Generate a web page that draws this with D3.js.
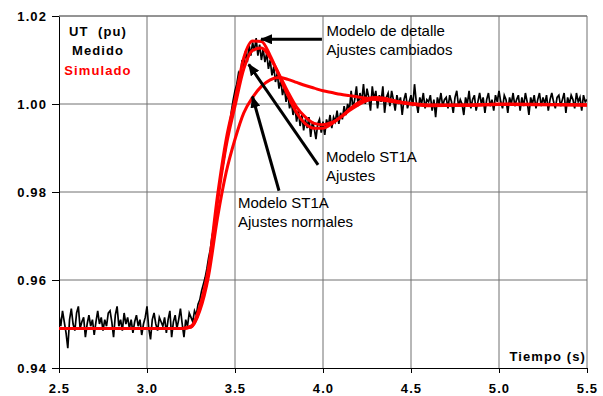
<!DOCTYPE html>
<html>
<head>
  <meta charset="UTF-8">
  <title></title>
  <style>
    body{ margin:0; background:#fff; }
    svg text{ font-family: Arial, 'Liberation Sans', sans-serif; }
    .tick text, .boldlbl{ font-size:13px; font-weight:bold; letter-spacing:1.1px; fill:#000; }
    .note{ font-size:15px; fill:#000; }
    .grid line{ stroke:#707070; stroke-width:1; }
  </style>
</head>
<body>
<script src="https://cdnjs.cloudflare.com/ajax/libs/d3/7.8.5/d3.min.js"></script>
<script>
/// data

var xTicks = [2.5, 3.0, 3.5, 4.0, 4.5, 5.0, 5.5];
var yTicks = [0.94, 0.96, 0.98, 1.00, 1.02];

// measured signal, one sample every 0.01 s from 2.50 s (one row = 0.1 s)
var measStart = 2.5, measStep = 0.01;
var measured = [
  0.9520, 0.9495, 0.9530, 0.9505, 0.9480, 0.9445, 0.9510, 0.9535, 0.9500, 0.9485,
  0.9525, 0.9540, 0.9490, 0.9505, 0.9515, 0.9470, 0.9500, 0.9520, 0.9495, 0.9510,
  0.9475, 0.9505, 0.9530, 0.9500, 0.9515, 0.9485, 0.9510, 0.9495, 0.9525, 0.9530,
  0.9505, 0.9470, 0.9520, 0.9540, 0.9495, 0.9510, 0.9485, 0.9525, 0.9500, 0.9515,
  0.9490, 0.9510, 0.9480, 0.9505, 0.9520, 0.9495, 0.9510, 0.9475, 0.9500, 0.9515,
  0.9540, 0.9490, 0.9465, 0.9510, 0.9525, 0.9500, 0.9485, 0.9515, 0.9505, 0.9495,
  0.9515, 0.9480, 0.9510, 0.9530, 0.9470, 0.9505, 0.9520, 0.9490, 0.9510, 0.9535,
  0.9500, 0.9470, 0.9510, 0.9495, 0.9525, 0.9515, 0.9505, 0.9530, 0.9520, 0.9545,
  0.9555, 0.9575, 0.9590, 0.9605, 0.9625, 0.9650, 0.9670, 0.9700, 0.9720, 0.9755,
  0.9780, 0.9810, 0.9835, 0.9855, 0.9880, 0.9905, 0.9935, 0.9955, 0.9985, 1.0010,
  1.0030, 1.0045, 1.0070, 1.0060, 1.0100, 1.0085, 1.0120, 1.0095, 1.0135, 1.0110,
  1.0140, 1.0120, 1.0150, 1.0110, 1.0135, 1.0100, 1.0125, 1.0095, 1.0115, 1.0080,
  1.0100, 1.0065, 1.0085, 1.0050, 1.0070, 1.0035, 1.0055, 1.0020, 1.0040, 1.0005,
  1.0025, 0.9990, 1.0005, 0.9975, 0.9995, 0.9960, 0.9985, 0.9950, 0.9975, 0.9940,
  0.9965, 0.9945, 0.9970, 0.9925, 0.9960, 0.9945, 0.9920, 0.9955, 0.9965, 0.9935,
  0.9960, 0.9930, 0.9965, 0.9950, 0.9975, 0.9945, 0.9970, 0.9960, 0.9985, 0.9955,
  0.9980, 0.9965, 0.9995, 0.9975, 1.0000, 0.9985, 1.0030, 0.9990, 1.0010, 1.0040,
  0.9995, 1.0025, 1.0005, 1.0045, 1.0000, 1.0035, 1.0015, 0.9985, 1.0040, 1.0010,
  1.0030, 0.9990, 1.0020, 1.0005, 1.0040, 0.9980, 1.0015, 1.0025, 0.9995, 1.0030,
  1.0010, 0.9985, 1.0020, 1.0000, 1.0015, 0.9975, 1.0010, 1.0025, 0.9990, 1.0005,
  1.0020, 0.9995, 1.0045, 1.0005, 0.9980, 1.0015, 1.0000, 1.0025, 0.9990, 1.0010,
  1.0005, 1.0020, 0.9985, 1.0010, 0.9970, 1.0015, 1.0000, 1.0025, 0.9995, 1.0010,
  1.0015, 0.9990, 1.0020, 1.0005, 0.9980, 1.0015, 1.0030, 0.9995, 1.0010, 1.0000,
  0.9975, 1.0015, 1.0000, 1.0030, 0.9990, 1.0010, 1.0020, 0.9985, 1.0005, 1.0025,
  1.0000, 1.0015, 0.9980, 1.0010, 1.0025, 0.9995, 1.0010, 0.9985, 1.0020, 1.0005,
  1.0030, 1.0005, 0.9990, 1.0020, 1.0010, 0.9980, 1.0015, 1.0000, 1.0025, 0.9995,
  1.0010, 1.0020, 0.9985, 1.0015, 0.9995, 1.0025, 1.0005, 0.9975, 1.0015, 1.0000,
  1.0020, 0.9990, 1.0010, 1.0025, 0.9995, 1.0015, 1.0000, 1.0020, 0.9985, 1.0010,
  1.0025, 1.0005, 0.9990, 1.0015, 1.0020, 0.9995, 1.0010, 1.0025, 0.9980, 1.0015,
  1.0000, 1.0020, 1.0010, 0.9990, 1.0025, 1.0005, 1.0015, 0.9985, 1.0020, 1.0005,
  1.0010
];

// simulated curves
var simTime = [2.5, 3.2, 3.25, 3.3, 3.35, 3.4, 3.45, 3.5, 3.55, 3.6, 3.65, 3.7, 3.75, 3.8,
  3.85, 3.9, 3.95, 4.0, 4.05, 4.1, 4.15, 4.2, 4.25, 4.3, 4.35, 4.4, 4.5, 4.6, 4.8, 5.0, 5.5];
var simDetalle = [0.949, 0.949, 0.9495, 0.954, 0.963, 0.979, 0.992, 1.001, 1.0105, 1.0143,
  1.0142, 1.011, 1.0065, 1.002, 0.998, 0.9955, 0.9945, 0.9945, 0.9955, 0.997, 0.9988,
  1.0003, 1.0012, 1.0015, 1.0013, 1.0008, 1.0, 0.9996, 0.9997, 1.0, 0.9998];
var simST1A = [0.949, 0.949, 0.9493, 0.9535, 0.962, 0.9775, 0.9905, 0.9995, 1.008, 1.0122,
  1.0127, 1.0105, 1.0068, 1.0028, 0.9993, 0.997, 0.9956, 0.9953, 0.9958, 0.997, 0.9985,
  0.9998, 1.0008, 1.0012, 1.0011, 1.0007, 1.0001, 0.9998, 0.9998, 0.9999, 0.9998];
var simNormal = [0.949, 0.949, 0.9493, 0.953, 0.961, 0.974, 0.9845, 0.992, 0.998, 1.0015,
  1.004, 1.0055, 1.006, 1.0056, 1.0049, 1.0042, 1.0036, 1.003, 1.0026, 1.0022, 1.0019,
  1.0016, 1.0013, 1.001, 1.0008, 1.0005, 1.0, 0.9997, 0.9997, 0.9999, 0.9998];

// annotations: text lines, text anchor (t, v), arrow from (t, v) to tip (t, v)
var notes = [
  { lines: ["Modelo de detalle", "Ajustes cambiados"], at: [4.02, 1.0154], from: [3.994, 1.0147], to: [3.648, 1.0147] },
  { lines: ["Modelo ST1A", "Ajustes"], at: [4.017, 0.98686], from: [3.972, 0.98618], to: [3.578, 1.0090] },
  { lines: ["Modelo ST1A", "Ajustes normales"], at: [3.517, 0.97644], from: [3.75, 0.98029], to: [3.599, 1.0017] }
];

/// chart

var W = 603, H = 396;
var margin = {top: 16, right: 16, bottom: 28, left: 59};
var w = W - margin.left - margin.right,
    h = H - margin.top - margin.bottom;

var svg = d3.select("body").append("svg")
    .attr("width", W).attr("height", H);
var g = svg.append("g")
    .attr("transform", "translate(" + margin.left + "," + margin.top + ")");

var x = d3.scaleLinear().domain([2.5, 5.5]).range([0, w]);
var y = d3.scaleLinear().domain([0.94, 1.02]).range([h, 0]);

g.append("clipPath").attr("id", "clip")
  .append("rect").attr("width", w).attr("height", h);

// grid
var grid = g.append("g").attr("class", "grid");
grid.selectAll(".vg").data(xTicks.slice(1)).enter().append("line")
    .attr("x1", d => x(d)).attr("x2", d => x(d))
    .attr("y1", 0).attr("y2", h);
grid.selectAll(".hg").data(yTicks.slice(1)).enter().append("line")
    .attr("x1", 0).attr("x2", w)
    .attr("y1", d => y(d)).attr("y2", d => y(d));

// axes
g.append("g")
    .attr("transform", "translate(0," + h + ")")
    .call(d3.axisBottom(x).tickValues(xTicks).tickFormat(d3.format(".1f")).tickSize(5).tickSizeOuter(0))
    .call(a => a.select(".domain").attr("stroke", "#000"))
    .call(a => a.selectAll(".tick text").attr("dy", "0.71em").attr("y", 16));
g.append("g")
    .call(d3.axisLeft(y).tickValues(yTicks).tickFormat(d3.format(".2f")).tickSize(7).tickPadding(5).tickSizeOuter(0))
    .call(a => a.select(".domain").attr("stroke", "#000"));
g.selectAll(".tick text").attr("font-family", null).attr("font-size", null);

var plot = g.append("g").attr("clip-path", "url(#clip)");

// measured
var measLine = d3.line()
    .x((d, i) => x(measStart + i * measStep))
    .y(d => y(d));
plot.append("path").datum(measured)
    .attr("d", measLine)
    .attr("fill", "none").attr("stroke", "#000").attr("stroke-width", 1.7);

// simulated
var simLine = d3.line()
    .x((d, i) => x(simTime[i]))
    .y(d => y(d))
    .curve(d3.curveMonotoneX);
[simNormal, simST1A, simDetalle].forEach(function(s) {
  plot.append("path").datum(s)
      .attr("d", simLine)
      .attr("fill", "none").attr("stroke", "#ff0000").attr("stroke-width", 3);
});

// arrows
svg.append("defs").append("marker")
    .attr("id", "head")
    .attr("markerUnits", "userSpaceOnUse")
    .attr("viewBox", "0 0 12 10")
    .attr("refX", 11).attr("refY", 5)
    .attr("markerWidth", 12).attr("markerHeight", 10)
    .attr("orient", "auto")
  .append("path").attr("d", "M0,0 L12,5 L0,10 Z").attr("fill", "#000");

notes.forEach(function(n) {
  g.append("line")
      .attr("x1", x(n.from[0])).attr("y1", y(n.from[1]))
      .attr("x2", x(n.to[0])).attr("y2", y(n.to[1]))
      .attr("stroke", "#000").attr("stroke-width", 3)
      .attr("marker-end", "url(#head)");
  var t = g.append("text").attr("class", "note")
      .attr("x", x(n.at[0])).attr("y", y(n.at[1]));
  n.lines.forEach(function(l, i) {
    t.append("tspan").attr("x", x(n.at[0])).attr("dy", i ? 19 : 0).text(l);
  });
});

// legend / titles
var leg = g.append("text").attr("class", "boldlbl").attr("text-anchor", "middle")
    .attr("x", 39).attr("y", 20).style("white-space", "pre");
leg.append("tspan").attr("x", 39).text("UT  (pu)");
leg.append("tspan").attr("x", 39).attr("dy", 19).text("Medido");
leg.append("tspan").attr("x", 39).attr("dy", 20).attr("fill", "#ff0000").text("Simulado");

g.append("text").attr("class", "boldlbl").attr("text-anchor", "end")
    .attr("x", w - 1).attr("y", h - 7).text("Tiempo (s)");

// top frame
g.append("line").attr("x1", 0).attr("x2", w).attr("y1", 0).attr("y2", 0).attr("stroke", "#707070");
</script>
</body>
</html>
